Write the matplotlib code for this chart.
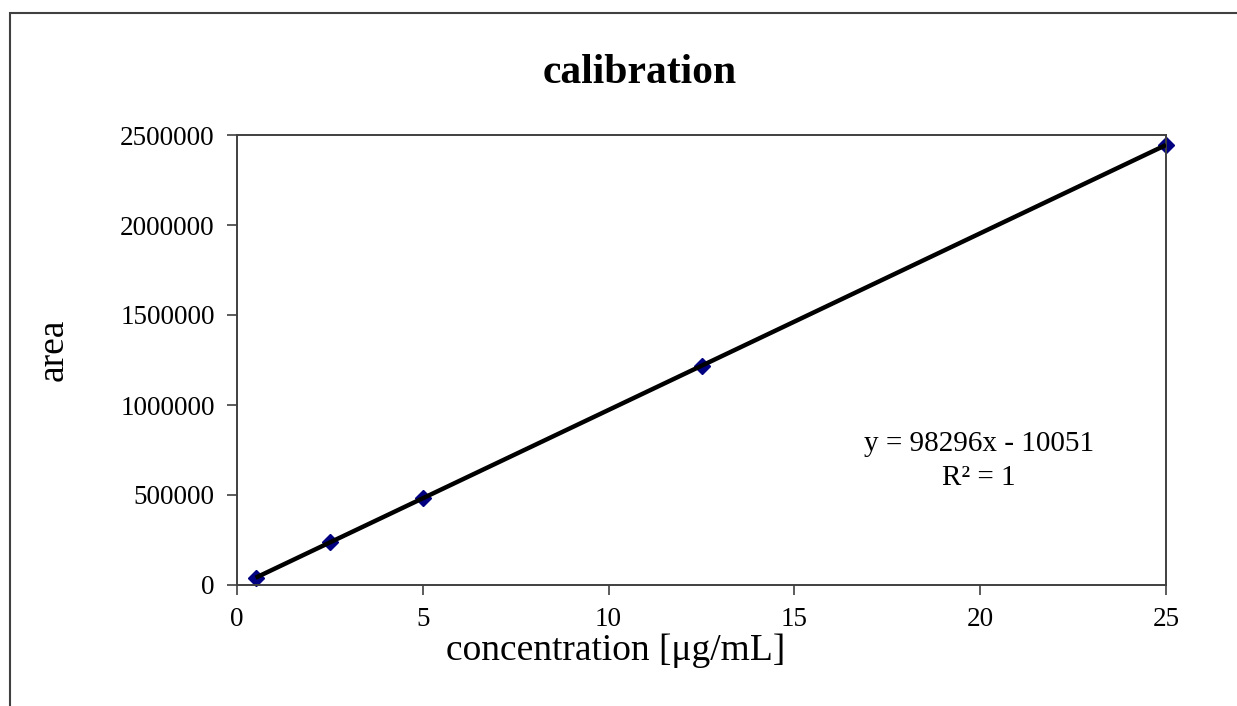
import numpy as np
import matplotlib
matplotlib.use("Agg")
import matplotlib.pyplot as plt
from matplotlib.patches import Rectangle

# calibration points
conc = [0.5, 2.5, 5, 12.5, 25]
area = [40000, 238000, 481000, 1217000, 2445000]
x_ticks = [0, 5, 10, 15, 20, 25]
y_ticks = [0, 500000, 1000000, 1500000, 2000000, 2500000]
eq_text = "y = 98296x - 10051"
r2_text = "R² = 1"

plt.rcParams['font.family'] = ['Liberation Serif', 'DejaVu Serif']
W, H = 1237, 706

fig = plt.figure(figsize=(W / 100, H / 100), dpi=100)
ax = fig.add_axes([237 / W, 1 - 585 / H, (1166 - 237) / W, (585 - 135) / H])

# linear trendline through the points
k, b = np.polyfit(conc, area, 1)
xs = np.array([min(conc), max(conc)])
ax.plot(xs, k * xs + b, color='black', lw=3.2, zorder=3, solid_capstyle='butt')
ax.plot(conc, area, linestyle='none', marker='D', markersize=8.5,
        color='#000080', zorder=2, clip_on=False)

ax.set_xlim(0, 25)
ax.set_ylim(0, 2500000)
ax.set_xticks(x_ticks)
ax.set_yticks(y_ticks)
ax.set_xticklabels([str(t) for t in x_ticks])
ax.set_yticklabels([str(t) for t in y_ticks])
ax.tick_params(axis='both', direction='out', length=7, width=1.2, color='#404040',
               labelsize=19.5, pad=9)
for s in ax.spines.values():
    s.set_color('#404040')
    s.set_linewidth(1.4)

fig.text(979 / W, 1 - 451 / H, eq_text, ha='center', va='baseline', fontsize=21)
fig.text(979 / W, 1 - 485 / H, r2_text, ha='center', va='baseline', fontsize=21)

fig.text(640 / W, 1 - 83 / H, "calibration", ha='center', va='baseline',
         fontsize=30, fontweight='bold')
fig.text(53 / W, 1 - 350 / H, "area", ha='center', va='center',
         rotation=90, fontsize=27)
fig.text(616 / W, 1 - 660 / H, "concentration [μg/mL]", ha='center', va='baseline',
         fontsize=27)

# outer chart border (only left and top show in the crop)
fig.add_artist(Rectangle((10 / W, -0.2), 2, 1.2 - 13 / H, transform=fig.transFigure,
                         fill=False, edgecolor='#404040', lw=1.5))

fig.savefig("out.png", dpi=100)
